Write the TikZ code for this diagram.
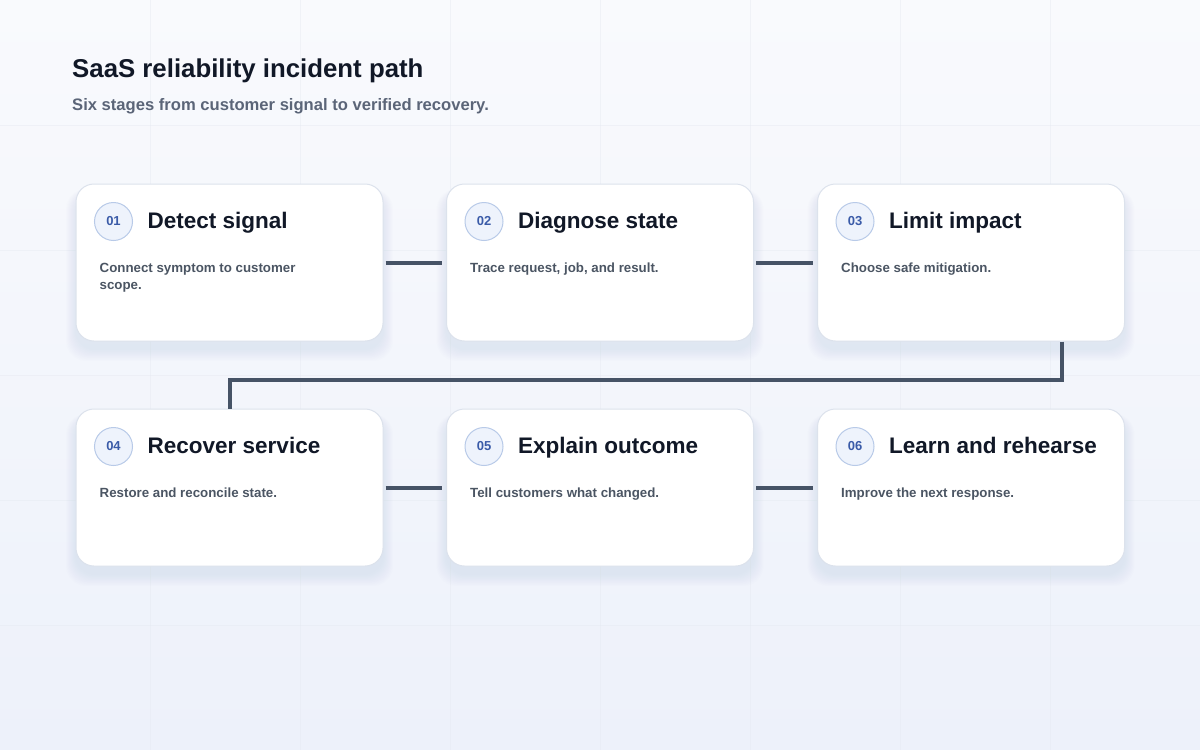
\documentclass[tikz,border=0pt]{standalone}
\usepackage{fontspec}
\setmainfont{Liberation Sans}
\usetikzlibrary{calc}
\definecolor{bgA}{HTML}{F9FAFD}
\definecolor{bgB}{HTML}{EDF1FA}
\definecolor{gridc}{HTML}{E4E8F0}
\definecolor{cardline}{HTML}{DCE2EC}
\definecolor{badgefill}{HTML}{EEF3FC}
\definecolor{badgeline}{HTML}{B8CAE8}
\definecolor{badgetext}{HTML}{3A5BA8}
\definecolor{titlec}{HTML}{111827}
\definecolor{subc}{HTML}{5B6578}
\definecolor{descc}{HTML}{4B5563}
\definecolor{linkc}{HTML}{465366}
\definecolor{shadowc}{HTML}{8A97B5}
\tikzset{
  card/.style={draw=cardline, line width=1pt, fill=white, rounded corners=18pt,
    minimum width=307pt, minimum height=157pt, inner sep=0pt},
  badge/.style={circle, draw=badgeline, fill=badgefill, line width=1pt,
    minimum size=38pt, inner sep=0pt, text=badgetext,
    font=\bfseries\fontsize{13}{15}\selectfont},
  ctitle/.style={anchor=base west, text=titlec, inner sep=0pt,
    font=\bfseries\fontsize{22.5}{26}\selectfont},
  cdesc/.style={anchor=base west, text=descc, inner sep=0pt,
    font=\bfseries\fontsize{13.3}{17}\selectfont},
  link/.style={draw=linkc, line width=4pt, line join=miter},
  pagetitle/.style={anchor=base west, text=titlec, inner sep=0pt,
    font=\bfseries\fontsize{25.8}{30}\selectfont},
  pagesub/.style={anchor=base west, text=subc, inner sep=0pt,
    font=\bfseries\fontsize{16.6}{20}\selectfont},
}
\newcommand{\stagecard}[6]{%
  % #1 name, #2 cx, #3 cy, #4 number, #5 title, #6 description
  \foreach \k in {1,...,10}{
    \fill[shadowc, opacity=0.012, rounded corners=20pt]
      ($(#2,#3)+(-153.5-\k,-78.5+8-0.3*\k)$) rectangle ($(#2,#3)+(153.5+\k,78.5+8+1.2*\k)$);
  }
  \node[card] (#1) at (#2,#3) {};
  \node[badge] (#1b) at ($(#1.north west)+(38,38)$) {#4};
  \node[ctitle] (#1t) at ($(#1.north west)+(72,45)$) {#5};
  \node[cdesc] (#1d) at ($(#1.north west)+(24,89)$) {\parbox[t]{230pt}{\raggedright #6}};
}
\begin{document}
\begin{tikzpicture}[x=1pt, y=-1pt]
  \useasboundingbox (0,0) rectangle (1200,750);
  \shade[top color=bgA, bottom color=bgB] (0,0) rectangle (1200,750);
  \foreach \gx in {150,300,...,1050}{
    \draw[gridc, line width=0.8pt, opacity=0.4] (\gx,0) -- (\gx,750);
  }
  \foreach \gy in {125,250,...,625}{
    \draw[gridc, line width=0.8pt, opacity=0.4] (0,\gy) -- (1200,\gy);
  }
  \node[pagetitle] (title) at (72,77) {SaaS reliability incident path};
  \node[pagesub] (sub) at (72,110) {Six stages from customer signal to verified recovery.};

  \stagecard{s1}{229.5}{262.5}{01}{Detect signal}{Connect symptom to customer\\scope.}
  \stagecard{s2}{600}{262.5}{02}{Diagnose state}{Trace request, job, and result.}
  \stagecard{s3}{971}{262.5}{03}{Limit impact}{Choose safe mitigation.}
  \stagecard{s4}{229.5}{487.5}{04}{Recover service}{Restore and reconcile state.}
  \stagecard{s5}{600}{487.5}{05}{Explain outcome}{Tell customers what changed.}
  \stagecard{s6}{971}{487.5}{06}{Learn and rehearse}{Improve the next response.}

  \draw[link, shorten <=2pt, shorten >=4pt] (s1.east) -- (s2.west);
  \draw[link, shorten <=2pt, shorten >=4pt] (s2.east) -- (s3.west);
  \draw[link, shorten <=2pt, shorten >=4pt] (s4.east) -- (s5.west);
  \draw[link, shorten <=2pt, shorten >=4pt] (s5.east) -- (s6.west);
  \coordinate (turn) at ($(s3.south)+(91,0)$);
  \draw[link] (turn) -- ($(turn)+(0,38)$) -| (s4.north);
\end{tikzpicture}
\end{document}
